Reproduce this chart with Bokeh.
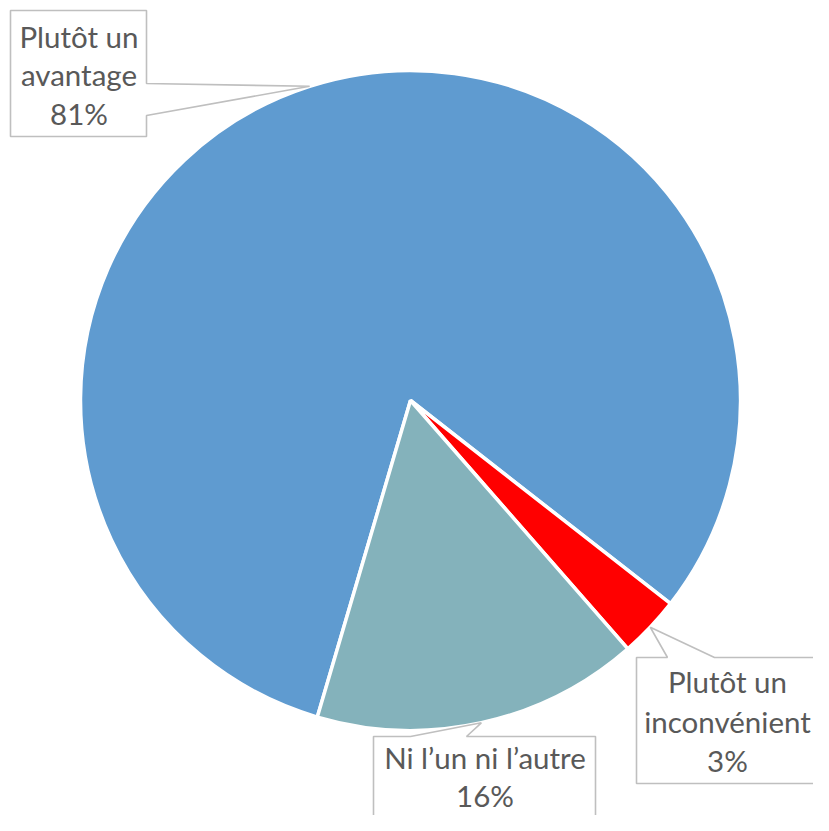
import numpy as np
from bokeh.plotting import figure
from bokeh.models import ColumnDataSource, Range1d
from bokeh.core.properties import value
from bokeh.embed import file_html
from bokeh.resources import INLINE

# ---- data ----
categories = ["Plutôt un avantage", "Plutôt un inconvénient", "Ni l’un ni l’autre"]
percents = [81, 3, 16]
label_lines = [["Plutôt un", "avantage", "81%"],
               ["Plutôt un", "inconvénient", "3%"],
               ["Ni l’un ni l’autre", "16%"]]
colors = ["#5F9BD0", "#FF0000", "#84B2BB"]

# ---- layout (picture pixel coords; y measured from top) ----
W, H = 813, 815
CX, CY, R = 410, 400, 330
FIRST_ANGLE = 196.4  # degrees clockwise from 12 o'clock
FS = 29.5

def Y(y):  # convert top-based pixel to data y (up)
    return H - y

p = figure(width=W, height=H, output_backend="svg", toolbar_location=None,
           x_range=Range1d(0, W), y_range=Range1d(0, H),
           min_border=0)
p.axis.visible = False
p.grid.visible = False
p.outline_line_color = None
p.background_fill_color = "white"

vals = np.array(percents, dtype=float)
frac = vals / vals.sum()
cum = np.concatenate([[0], np.cumsum(frac)]) * 360.0
phi1 = FIRST_ANGLE + cum[:-1]
phi2 = FIRST_ANGLE + cum[1:]
start = np.radians(90 - phi2)
end = np.radians(90 - phi1)
mid_phi = (phi1 + phi2) / 2.0

src = ColumnDataSource(dict(x=[CX] * 3, y=[Y(CY)] * 3, start=start, end=end,
                            color=colors, cat=categories))
p.wedge(x="x", y="y", radius=R, start_angle="start", end_angle="end",
        fill_color="color", line_color="white", line_width=3.5, source=src)

# callout tips on the pie edge at the slice mid angles
tips = [(CX + R * np.sin(np.radians(a)), CY - R * np.cos(np.radians(a))) for a in mid_phi]

# box geometry: (left, top, right, bottom), pointer side & base; text baselines
boxes = [
    dict(l=10, t=10, r=146, b=136, side="right", base=(83, 115), cx=78.5, base_y=[46.7, 85, 123.5]),
    dict(l=636, t=657, r=860, b=783, side="top", base=(667, 714), cx=727, base_y=[692, 731.5, 770.5]),
    dict(l=373, t=736, r=595, b=870, side="top", base=(410, 466), cx=484.5, base_y=[768, 806]),
]

for i, bx in enumerate(boxes):
    tx, ty = tips[i]
    l, t, r, b = bx["l"], bx["t"], bx["r"], bx["b"]
    if bx["side"] == "right":
        b1, b2 = bx["base"]
        pts = [(l, t), (r, t), (r, b1), (tx, ty), (r, b2), (r, b), (l, b)]
    else:
        b1, b2 = bx["base"]
        pts = [(l, t), (b1, t), (tx, ty), (b2, t), (r, t), (r, b), (l, b)]
    xs = [q[0] for q in pts]
    ys = [Y(q[1]) for q in pts]
    p.patch(xs, ys, fill_color="white", line_color="#BFBFBF", line_width=1.6)
    lines = label_lines[i]
    # middle of the line sits ~0.37 em above the baseline
    p.text(x=[bx["cx"]] * len(lines), y=[Y(v - 0.37 * FS) for v in bx["base_y"]], text=lines,
           text_align="center", text_baseline="middle",
           text_font=value("Lato"), text_font_size=f"{FS}px", text_color="#595959")

open("out.html", "w").write(file_html(p, INLINE))
